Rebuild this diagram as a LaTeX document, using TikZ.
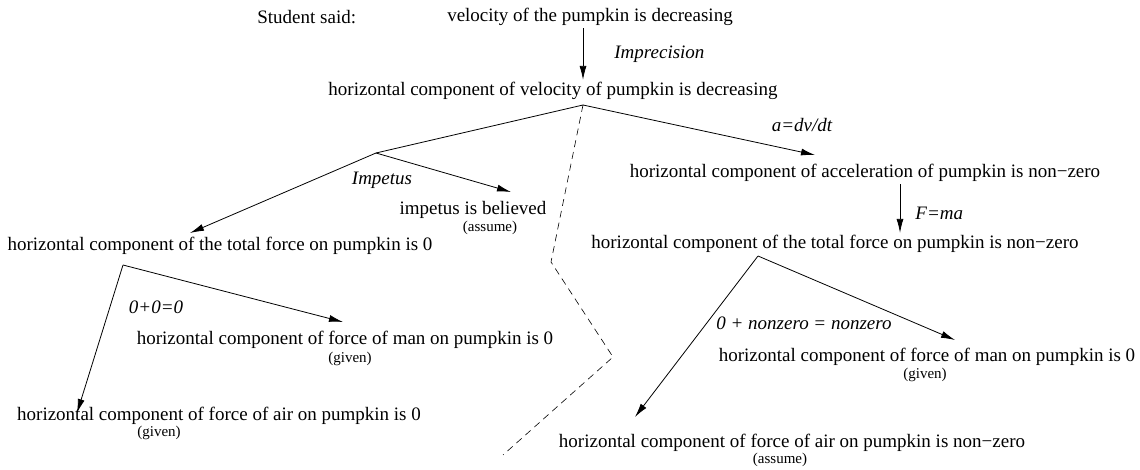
\documentclass[tikz,border=0pt]{standalone}
\usepackage{fontspec}
\setmainfont{Liberation Serif}
\usetikzlibrary{arrows.meta}

\begin{document}
\begin{tikzpicture}[>={Latex[length=14pt,width=7pt]},x=1pt,y=-1pt,line width=0.8pt,
  every node/.style={font=\fontsize{19}{22}\selectfont,inner sep=2pt},
  rule/.style={font=\fontsize{19}{22}\selectfont\itshape},
  note/.style={font=\fontsize{15}{17}\selectfont}]
  \useasboundingbox (0,0) rectangle (1140,470);
  % statements
  \node[anchor=west] (said) at (255,17) {Student said:};
  \node (vel) at (590,17) {velocity of the pumpkin is decreasing};
  \node (velh) at (553,91) {horizontal component of velocity of pumpkin is decreasing};
  \node (imp) at (473,210) {impetus is believed};
  \node (tot) at (220,246) {horizontal component of the total force on pumpkin is 0};
  \node (man) at (345,340) {horizontal component of force of man on pumpkin is 0};
  \node (air) at (219,416) {horizontal component of force of air on pumpkin is 0};
  \node (acc) at (865,173) {horizontal component of acceleration of pumpkin is non−zero};
  \node (totnz) at (835,244) {horizontal component of the total force on pumpkin is non−zero};
  \node (manr) at (927,357) {horizontal component of force of man on pumpkin is 0};
  \node (airnz) at (792,443) {horizontal component of force of air on pumpkin is non−zero};
  % where the premises come from
  \node[note] (impsrc) at (490,228) {(assume)};
  \node[note] (mansrc) at (350,359) {(given)};
  \node[note] (airsrc) at (159,433) {(given)};
  \node[note] (manrsrc) at (925,375) {(given)};
  \node[note] (airnzsrc) at (780,460) {(assume)};
  % rule labels
  \node[rule,anchor=west] (rimprec) at (612,54) {Imprecision};
  \node[rule] (rimpetus) at (382,180) {Impetus};
  \node[rule] (radv) at (802,125) {a=dv/dt};
  \node[rule,anchor=west] (rfma) at (913,213) {F=ma};
  \node[rule] (rsum) at (156,307) {0+0=0};
  \node[rule,anchor=west] (rsumnz) at (714,323) {0 + nonzero = nonzero};
  % branch points and arrow tips
  \coordinate (b0) at (583,105);
  \coordinate (b1) at (376,153);
  \coordinate (b2) at (758,256);
  \coordinate (b3) at (123,265);
  \coordinate (fx) at (900,0);
  \coordinate (tipimp) at (511,192);
  \coordinate (tiptot) at (190,233);
  \coordinate (tipacc) at (815,155);
  \coordinate (tipman) at (343,322);
  \coordinate (tipair) at (77,413);
  \coordinate (tipmanr) at (955,340);
  \coordinate (tipairnz) at (635,417);
  % inferences
  \draw[->] (vel.south -| b0) -- (velh.north -| b0);
  \draw (b0) -- (b1);
  \draw[->] (b1) -- (tipimp);
  \draw[->] (b1) -- (tiptot);
  \draw[->] (b3) -- (tipman);
  \draw[->] (b3) -- (tipair);
  \draw[->] (b0) -- (tipacc);
  \draw[->] (acc.south -| fx) -- (totnz.north -| fx);
  \draw[->] (b2) -- (tipmanr);
  \draw[->] (b2) -- (tipairnz);
  % split between the two explanations
  \draw[dash pattern=on 7pt off 5pt,line width=0.6pt] (b0) -- (551,262) -- (613,357) -- (503,455);
\end{tikzpicture}
\end{document}
